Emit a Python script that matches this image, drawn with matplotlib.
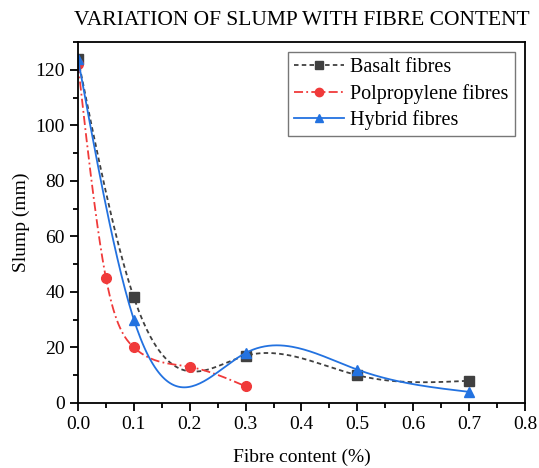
import numpy as np
import matplotlib.pyplot as plt
from matplotlib.ticker import MultipleLocator

plt.rcParams['font.family'] = ['Liberation Serif', 'DejaVu Serif']

# data
basalt_x = [0.0, 0.1, 0.3, 0.5, 0.7]
basalt_y = [124, 38, 17, 10, 8]
pp_x = [0.0, 0.05, 0.1, 0.2, 0.3]
pp_y = [122, 45, 20, 13, 6]
hybrid_x = [0.0, 0.1, 0.3, 0.5, 0.7]
hybrid_y = [124, 30, 18, 12, 4]


def spline(x, y, n=200):
    # natural cubic spline, used only to draw the smooth connecting line
    x = np.asarray(x, float)
    y = np.asarray(y, float)
    k = len(x)
    h = np.diff(x)
    A = np.zeros((k, k))
    b = np.zeros(k)
    A[0, 0] = 1
    A[-1, -1] = 1
    for i in range(1, k - 1):
        A[i, i - 1] = h[i - 1]
        A[i, i] = 2 * (h[i - 1] + h[i])
        A[i, i + 1] = h[i]
        b[i] = 6 * ((y[i + 1] - y[i]) / h[i] - (y[i] - y[i - 1]) / h[i - 1])
    m = np.linalg.solve(A, b)
    xs = np.linspace(x[0], x[-1], n)
    idx = np.clip(np.searchsorted(x, xs) - 1, 0, k - 2)
    x0, x1 = x[idx], x[idx + 1]
    hh = x1 - x0
    t0 = x1 - xs
    t1 = xs - x0
    ys = (m[idx] * t0**3 + m[idx + 1] * t1**3) / (6 * hh) \
        + (y[idx] / hh - m[idx] * hh / 6) * t0 \
        + (y[idx + 1] / hh - m[idx + 1] * hh / 6) * t1
    return xs, ys


fig = plt.figure(figsize=(5.39, 4.68), dpi=100)
ax = fig.add_axes([0.1447, 0.139, 0.8293, 0.771])

series = [
    (basalt_x, basalt_y, '#404040', (0, (2.5, 1.8)), 's', 'Basalt fibres'),
    (pp_x, pp_y, '#f03a3a', (0, (5, 1.8, 1, 1.8)), 'o', 'Polpropylene fibres'),
    (hybrid_x, hybrid_y, '#2372e0', '-', '^', 'Hybrid fibres'),
]

for x, y, c, ls, mk, lab in series:
    xs, ys = spline(x, y)
    ax.plot(xs, ys, color=c, linestyle=ls, lw=1.3)
    ax.plot(x, y, linestyle='none', marker=mk, color=c, markersize=7)
    ax.plot([], [], color=c, linestyle=ls, lw=1.3, marker=mk, markersize=6, label=lab)

ax.set_xlim(0, 0.8)
ax.set_ylim(0, 130)
ax.xaxis.set_major_locator(MultipleLocator(0.1))
ax.xaxis.set_minor_locator(MultipleLocator(0.05))
ax.yaxis.set_major_locator(MultipleLocator(20))
ax.yaxis.set_minor_locator(MultipleLocator(10))
ax.tick_params(which='both', direction='out', top=False, right=False, labelsize=14, width=1.3)
ax.tick_params(which='major', length=6)
ax.tick_params(which='minor', length=3.5)
for s in ax.spines.values():
    s.set_linewidth(1.3)

ax.set_xlabel('Fibre content (%)', fontsize=14, labelpad=11)
ax.set_ylabel('Slump (mm)', fontsize=14)
ax.set_title('VARIATION OF SLUMP WITH FIBRE CONTENT', fontsize=15.5, pad=12)

leg = ax.legend(loc='upper right', fontsize=14.5, frameon=True, fancybox=False,
                edgecolor='#555555', handlelength=2.5, handletextpad=0.3,
                borderpad=0.3, labelspacing=0.32, borderaxespad=0.5)
leg.get_frame().set_linewidth(1.0)

fig.savefig('out.png', dpi=100)
